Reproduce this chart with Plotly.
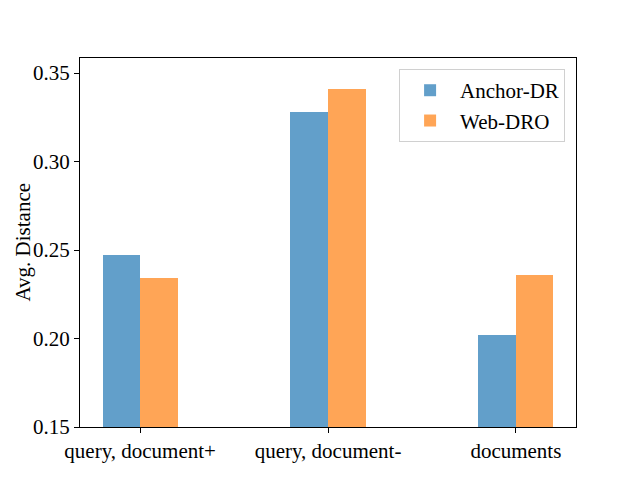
import plotly.graph_objects as go

categories = ["query, document+", "query, document-", "documents"]
anchor_dr = [0.247, 0.328, 0.202]
web_dro = [0.234, 0.341, 0.236]
series_names = ["Anchor-DR", "Web-DRO"]
y_ticks = [0.15, 0.20, 0.25, 0.30, 0.35]
y_title = "Avg. Distance"

FONT = "Liberation Serif, Times New Roman, serif"
xpos = list(range(len(categories)))

fig = go.Figure()
fig.add_trace(go.Bar(x=xpos, y=anchor_dr, name=series_names[0], width=0.2, offset=-0.2,
                     marker=dict(color="#629fca", line=dict(width=0))))
fig.add_trace(go.Bar(x=xpos, y=web_dro, name=series_names[1], width=0.2, offset=0.0,
                     marker=dict(color="#ffa556", line=dict(width=0))))

fig.update_layout(
    width=632, height=472,
    margin=dict(l=72, r=64, t=50, b=53, autoexpand=False),
    paper_bgcolor="white", plot_bgcolor="white",
    font=dict(family=FONT, size=21, color="black"),
    showlegend=True,
    legend=dict(x=0.978, y=0.97, xanchor="right", yanchor="top",
                bgcolor="white", bordercolor="#d0d0d0", borderwidth=1,
                font=dict(size=21), itemwidth=50, tracegroupgap=4),
    bargap=0,
)
fig.add_annotation(text=y_title, textangle=-90, xref="paper", yref="paper",
                   x=0, y=0.5, xanchor="center", yanchor="middle", xshift=-58,
                   showarrow=False, font=dict(family=FONT, size=21, color="black"))
fig.update_xaxes(range=[-0.32, 2.32], tickmode="array", tickvals=xpos, ticktext=categories,
                 showline=True, linecolor="black", linewidth=1, mirror=True, automargin=False,
                 ticks="outside", ticklen=5, tickcolor="black", showgrid=False, zeroline=False)
fig.update_yaxes(range=[0.15, 0.3585], tickmode="array", tickvals=y_ticks,
                 ticktext=[f"{v:.2f}" for v in y_ticks],
                 showline=True, linecolor="black", linewidth=1, mirror=True, automargin=False,
                 ticks="outside", ticklen=5, tickcolor="black", showgrid=False, zeroline=False)

fig.write_html("out.html")
